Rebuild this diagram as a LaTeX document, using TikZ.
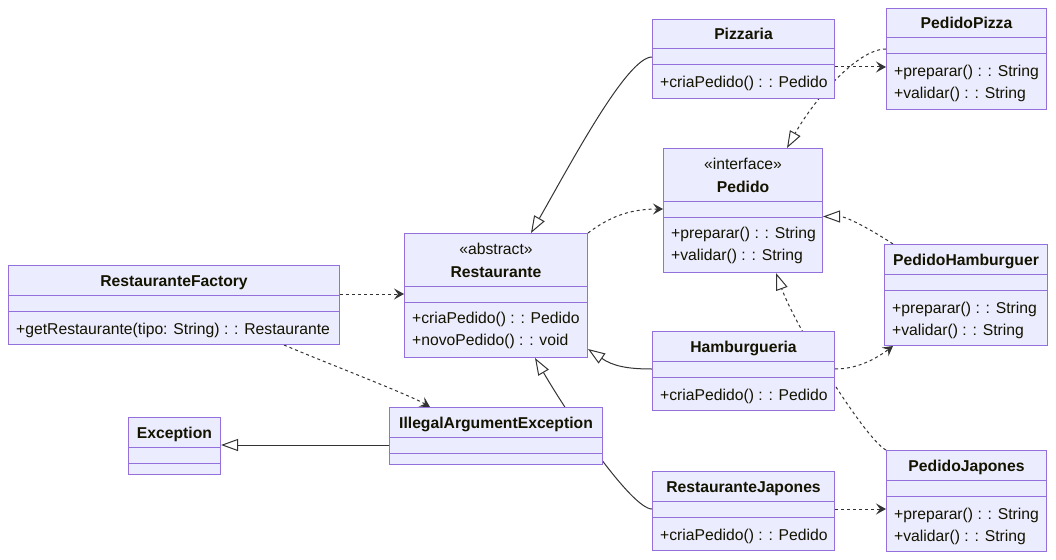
\documentclass[tikz,border=0pt]{standalone}
\usepackage{fontspec}
\setmainfont{Liberation Sans}
\usepackage{tikz}
\usetikzlibrary{positioning,arrows.meta,calc,backgrounds}
\definecolor{classfill}{HTML}{ECECFF}
\definecolor{classborder}{HTML}{9370DB}
\definecolor{classtext}{HTML}{131300}
\definecolor{edgegray}{HTML}{333333}

% UML class box: name, north west corner, width, stereotype, title, no. of members, members
\newcommand{\umlclass}[7]{%
  \def\umlhead{30}\def\umlbase{21}\def\umlfirst{39}%
  \if\relax\detokenize{#4}\relax\else\def\umlhead{53}\def\umlbase{44}\def\umlfirst{37}\fi
  \pgfmathsetmacro{\umltotal}{\umlhead+27+22*#6}%
  \node[classbox, minimum width=#3pt, minimum height=\umltotal pt] (#1) at #2 {};
  \draw[classline] ([yshift=-\umlhead pt]#1.north west) -- ([yshift=-\umlhead pt]#1.north east);
  \draw[classline] ([yshift=-\umlhead pt-16pt]#1.north west) -- ([yshift=-\umlhead pt-16pt]#1.north east);
  \coordinate (#1-w) at ([yshift=-\umlhead pt-8pt]#1.north west);
  \coordinate (#1-e) at ([yshift=-\umlhead pt-8pt]#1.north east);
  \if\relax\detokenize{#4}\relax\else
    \node[stereo] (#1-stereo) at ([yshift=-21pt]#1.north) {#4};
  \fi
  \node[classtitle] (#1-title) at ([yshift=-\umlbase pt]#1.north) {#5};
  \ifnum#6>0
    \foreach \m [count=\i] in {#7}
      \node[member] (#1-m\i) at ([xshift=8pt, yshift=-\umlhead pt-\umlfirst pt-22pt*(\i-1)]#1.north west) {\m};
  \fi
}

\begin{document}
\begin{tikzpicture}[
    x=1pt, y=-1pt,
    classbox/.style={draw=classborder, fill=classfill, line width=1pt,
                     anchor=north west, inner sep=0pt},
    classline/.style={draw=classborder, line width=1pt},
    stereo/.style={anchor=base, inner sep=0pt, text=classtext,
                   font=\fontsize{15.7}{22}\selectfont},
    classtitle/.style={stereo, font=\fontsize{15.7}{22}\selectfont\bfseries},
    member/.style={anchor=base west, inner sep=0pt, text=classtext,
                   font=\fontsize{15.7}{22}\selectfont},
    extends/.style={draw=edgegray, line width=1pt,
                    -{Triangle[length=17pt, width=12pt, fill=white]}},
    realizes/.style={extends, dash pattern=on 3pt off 3pt},
    depends/.style={draw=edgegray, line width=1pt, dash pattern=on 3pt off 3pt,
                    -{Stealth[length=10pt, width=11pt, inset=4pt]}},
]
\useasboundingbox (0,0) rectangle (1056,559);

% classes
\umlclass{factory}{(8,265)}{331}{}{RestauranteFactory}{1}{+getRestaurante(tipo: String) : : Restaurante}
\umlclass{restaurante}{(404,233)}{183}{«abstract»}{Restaurante}{2}{+criaPedido() : : Pedido, +novoPedido() : : void}
\umlclass{exception}{(128,417)}{92}{}{Exception}{0}{}
\umlclass{iae}{(389,407)}{213}{}{IllegalArgumentException}{0}{}
\umlclass{pizzaria}{(652,19)}{182}{}{Pizzaria}{1}{+criaPedido() : : Pedido}
\umlclass{hamburgueria}{(652,331)}{182}{}{Hamburgueria}{1}{+criaPedido() : : Pedido}
\umlclass{japones}{(652,471)}{182}{}{RestauranteJapones}{1}{+criaPedido() : : Pedido}
\umlclass{pedido}{(663,148)}{159}{«interface»}{Pedido}{2}{+preparar() : : String, +validar() : : String}
\umlclass{pedidoPizza}{(886,8)}{160}{}{PedidoPizza}{2}{+preparar() : : String, +validar() : : String}
\umlclass{pedidoHamb}{(884,244)}{163}{}{PedidoHamburguer}{2}{+preparar() : : String, +validar() : : String}
\umlclass{pedidoJap}{(886,450)}{160}{}{PedidoJapones}{2}{+preparar() : : String, +validar() : : String}

% relations, behind the boxes
\begin{scope}[on background layer]
  % inheritance
  \draw[extends] (pizzaria-w) .. controls +(-25,0) and +(40,-70) .. ([xshift=35pt]restaurante.north);
  \draw[extends] (hamburgueria-w) .. controls +(-25,0) and +(25,17) .. ([yshift=9pt]restaurante.south east);
  \draw[extends] (japones-w) .. controls +(-20,0) and +(35,60) .. ([xshift=39pt]restaurante.south);
  \draw[extends] (iae-w) -- (exception.east |- iae-w);

  % realization
  \draw[realizes] ([yshift=-3pt]pedidoPizza-w) .. controls +(-30,0) and +(25,-45) .. ([xshift=44pt]pedido.north);
  \draw[realizes] ([xshift=9pt]pedidoHamb.north west) .. controls +(-15,-10) and +(25,0) .. ([yshift=-6pt]pedido.east);
  \draw[realizes] (pedidoJap.north west) .. controls +(-20,-10) and +(20,55) .. ([xshift=33pt]pedido.south);

  % dependencies
  \draw[depends] (factory.east |- restaurante-w) -- (restaurante-w);
  \draw[depends] ([xshift=110pt]factory.south) .. controls +(40,17) and +(-20,-12) .. ([xshift=41pt]iae.north west);
  \draw[depends] (restaurante.north east) .. controls +(20,-15) and +(-35,0) .. (pedido-w);
  \draw[depends] ([yshift=-10pt]pizzaria-e) -- ([yshift=-10pt]pedidoPizza.west |- pizzaria-e);
  \draw[depends] (hamburgueria-e) .. controls +(20,0) and +(-20,15) .. ([xshift=9pt]pedidoHamb.south west);
  \draw[depends] (japones-e) -- (pedidoJap.west |- japones-e);
\end{scope}

\end{tikzpicture}
\end{document}
